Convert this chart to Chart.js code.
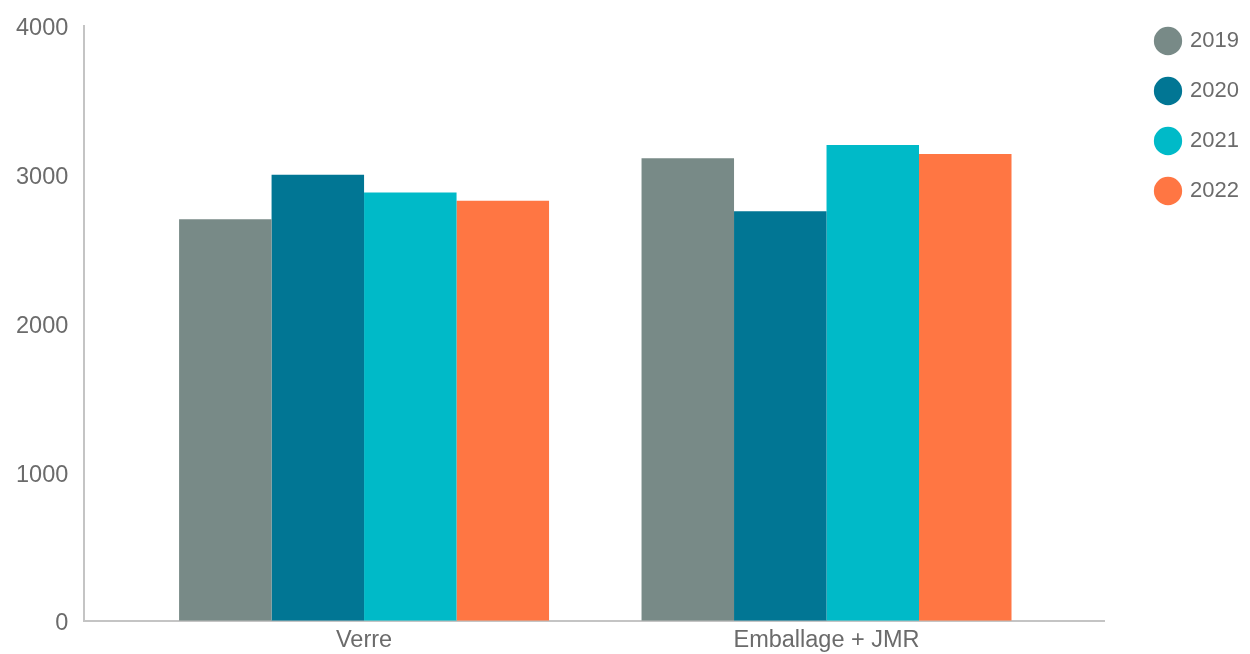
<!DOCTYPE html>
<html>
<head>
<meta charset="utf-8">
<script src="https://cdn.jsdelivr.net/npm/chart.js@4/dist/chart.umd.min.js"></script>
<style>
  html, body { margin: 0; padding: 0; background: #fff; }
  #wrap { width: 1250px; height: 654px; position: relative; }
</style>
</head>
<body>
<div id="wrap"><canvas id="chart"></canvas></div>
<script>
// data
const categories = ["Verre", "Emballage + JMR"];
const years = ["2019", "2020", "2021", "2022"];
const values2019 = [2700, 3110];
const values2020 = [3000, 2755];
const values2021 = [2880, 3200];
const values2022 = [2825, 3140];
const yTicks = [0, 1000, 2000, 3000, 4000];

const colors = ["#788a87", "#017694", "#00bac8", "#ff7643"];
const series = [values2019, values2020, values2021, values2022];

const toPoints = (vals) => vals.map((v, i) => ({ x: i, y: v }));

const datasets = years.map((y, i) => ({
  label: y,
  data: toPoints(series[i]),
  backgroundColor: colors[i],
  borderWidth: 0,
  barPercentage: 1,
  categoryPercentage: 0.8
}));

Chart.defaults.font.family = "'Liberation Sans', Arial, sans-serif";
Chart.defaults.color = "#6b6b6b";

// nudge the legend towards the right edge
const legendShift = {
  id: "legendShift",
  afterLayout(chart) {
    const lg = chart.legend;
    lg.left += 25; lg.right += 25;
    lg.top += 2; lg.bottom += 2;
  }
};

new Chart(document.getElementById("chart"), {
  type: "bar",
  data: { datasets: datasets },
  plugins: [legendShift],
  options: {
    responsive: true,
    maintainAspectRatio: false,
    animation: false,
    layout: { padding: { top: 0, left: 0, right: 0, bottom: -7 } },
    plugins: {
      tooltip: { enabled: false },
      legend: {
        position: "right",
        align: "start",
        labels: {
          usePointStyle: true,
          pointStyle: "circle",
          boxHeight: 20,
          font: { size: 22 },
          padding: 28,
          color: "#6b6b6b"
        }
      }
    },
    scales: {
      x: {
        type: "linear",
        offset: false,
        min: -0.605,
        max: 1.6,
        grid: { display: false, tickLength: 0 },
        border: { display: true, color: "#c4c4c4", width: 2 },
        afterFit: (scale) => { scale.paddingRight = 146; },
        ticks: {
          stepSize: 1,
          includeBounds: false,
          font: { size: 23.5 },
          padding: 6,
          callback: (v) => categories[v] !== undefined ? categories[v] : ""
        }
      },
      y: {
        min: 0,
        max: 4000,
        grid: { display: false, tickLength: 0 },
        border: { display: true, color: "#c4c4c4", width: 2 },
        afterBuildTicks: (axis) => { axis.ticks = yTicks.map(v => ({ value: v })); },
        afterFit: (scale) => { scale.paddingTop = 26; },
        ticks: {
          font: { size: 23.5 },
          padding: 16,
          labelOffset: 3,
          callback: (v) => String(v)
        }
      }
    }
  }
});
</script>
</body>
</html>
